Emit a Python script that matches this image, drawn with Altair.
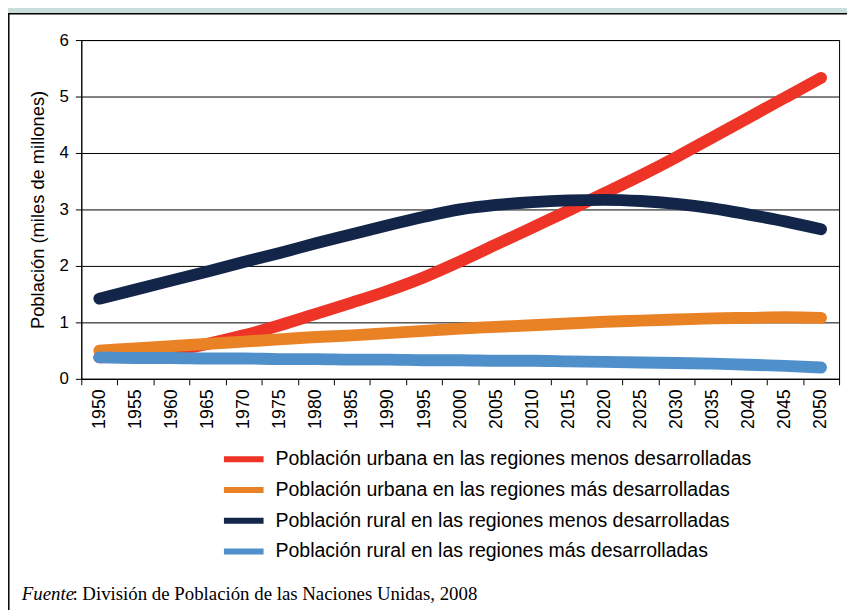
import altair as alt
import pandas as pd

years = list(range(1950, 2055, 5))

series_names = [
    "Población urbana en las regiones menos desarrolladas",
    "Población urbana en las regiones más desarrolladas",
    "Población rural en las regiones menos desarrolladas",
    "Población rural en las regiones más desarrolladas",
]
series_colors = ["#ee3327", "#e98125", "#13264a", "#4f8fca"]

urbana_menos = [0.38, 0.42, 0.50, 0.62, 0.77, 0.95, 1.15, 1.35, 1.56, 1.80, 2.08,
                2.38, 2.68, 2.98, 3.29, 3.60, 3.93, 4.28, 4.63, 4.98, 5.33]
urbana_mas = [0.50, 0.54, 0.58, 0.62, 0.66, 0.70, 0.74, 0.77, 0.81, 0.85, 0.89,
              0.92, 0.95, 0.98, 1.01, 1.03, 1.05, 1.07, 1.08, 1.09, 1.08]
rural_menos = [1.42, 1.58, 1.74, 1.90, 2.07, 2.23, 2.40, 2.56, 2.72, 2.87, 3.00,
               3.08, 3.13, 3.16, 3.17, 3.15, 3.10, 3.02, 2.91, 2.79, 2.65]
rural_mas = [0.38, 0.37, 0.37, 0.36, 0.36, 0.35, 0.35, 0.34, 0.34, 0.33, 0.33,
             0.32, 0.32, 0.31, 0.30, 0.29, 0.28, 0.27, 0.25, 0.23, 0.20]

y_ticks = [0, 1, 2, 3, 4, 5, 6]
y_title = "Población (miles de millones)"
source_italic = "Fuente"
source_rest = ": División de Población de las Naciones Unidas, 2008"

rows = []
for name, vals in zip(series_names, [urbana_menos, urbana_mas, rural_menos, rural_mas]):
    for yr, v in zip(years, vals):
        rows.append({"Año": yr, "Valor": v, "Serie": name})
df = pd.DataFrame(rows)

half = 2.5
tick_vals = [y - half for y in years] + [years[-1] + half]
W, H = 765, 342
band_px = W / len(years)

one = pd.DataFrame({"a": [0]})
teal = "#c9dedb"
strip = alt.Chart(one).mark_rect(fill=teal, strokeWidth=0).encode(
    x=alt.value(-80), x2=alt.value(900), y=alt.value(-40), y2=alt.value(-26.5))
top_line = alt.Chart(one).mark_rule(color="black", strokeWidth=1.5).encode(
    x=alt.value(-74), x2=alt.value(900), y=alt.value(-26.5))
left_line = alt.Chart(one).mark_rule(color="black", strokeWidth=1.5).encode(
    x=alt.value(-73.2), y=alt.value(-26.5), y2=alt.value(700))

lines = alt.Chart(df).mark_line(
    strokeWidth=12, strokeCap="round", strokeJoin="round", interpolate="monotone"
).encode(
    x=alt.X("Año:Q",
            scale=alt.Scale(domain=[years[0] - half, years[-1] + half], nice=False, zero=False),
            axis=alt.Axis(values=tick_vals, grid=False, title=None, labelAngle=-90,
                          labelExpr=f"datum.value < {years[-1]} ? toString(datum.value + {half}) : ''",
                          labelOffset=band_px / 2, tickSize=6, labelPadding=4,
                          labelFontSize=18, labelColor="black", domainColor="black",
                          tickColor="black", labelFont="Liberation Sans", labelOverlap=False)),
    y=alt.Y("Valor:Q",
            scale=alt.Scale(domain=[0, 6], nice=False),
            axis=alt.Axis(values=y_ticks, title=y_title, grid=True, gridColor="black",
                          gridOpacity=1, tickSize=6, labelPadding=7, labelFontSize=17,
                          labelColor="black", domainColor="black", tickColor="black",
                          titleFontSize=18.5, titleFontWeight="normal", titleColor="black",
                          titleFont="Liberation Sans", labelFont="Liberation Sans",
                          titlePadding=12)),
    color=alt.Color("Serie:N",
                    scale=alt.Scale(domain=series_names, range=series_colors),
                    sort=series_names,
                    legend=alt.Legend(title=None, orient="none", legendX=141, legendY=409,
                                      symbolType="stroke", symbolSize=1600, symbolStrokeWidth=6,
                                      labelFontSize=19.7, labelFont="Liberation Sans",
                                      labelColor="black", labelLimit=0, padding=0,
                                      clipHeight=28.5, rowPadding=2, labelOffset=9)),
    order=alt.Order("Serie:N"),
)

txt_df = pd.DataFrame({"t1": [source_italic], "t2": [source_rest]})
src1 = alt.Chart(txt_df).mark_text(
    font="Liberation Serif", fontSize=19, fontStyle="italic", align="left", baseline="alphabetic",
    color="black"
).encode(text="t1:N", x=alt.value(-60), y=alt.value(565.5))
src2 = alt.Chart(txt_df).mark_text(
    font="Liberation Serif", fontSize=19, align="left", baseline="alphabetic", color="black"
).encode(text="t2:N", x=alt.value(-9), y=alt.value(565.5))

chart = alt.layer(strip, top_line, left_line, lines, src1, src2).properties(
    width=W, height=H,
    autosize=alt.AutoSizeParams(type="none"),
    padding={"left": 74, "top": 29.5, "right": 8, "bottom": 231},
    background="white",
).configure_view(stroke="black", strokeWidth=1)

chart.save("out.html", embed_options={"renderer": "svg", "actions": False})
